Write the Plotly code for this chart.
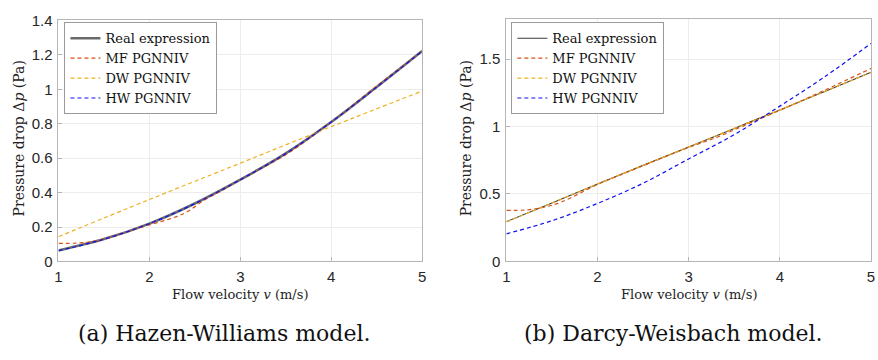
import plotly.graph_objects as go

# ---------------- data ----------------
v = [1.0, 1.5, 2.0, 2.5, 3.0, 3.5, 4.0, 4.5, 5.0]

# (a) Hazen-Williams model
hw_real = [0.064, 0.130, 0.220, 0.337, 0.475, 0.628, 0.810, 1.013, 1.222]
hw_hw = [0.063, 0.129, 0.220, 0.336, 0.475, 0.627, 0.810, 1.013, 1.222]
v_mf_a = [1.0, 1.2, 1.4, 1.6, 1.8, 2.0, 2.2, 2.4, 2.6, 2.8, 3.0, 3.5, 4.0, 4.5, 5.0]
hw_mf = [0.105, 0.107, 0.118, 0.145, 0.180, 0.213, 0.243, 0.284, 0.355, 0.413, 0.475, 0.620, 0.810, 1.020, 1.222]
v_dw_a = [1.0, 2.0, 3.0, 4.0, 5.0]
hw_dw = [0.144, 0.360, 0.571, 0.783, 0.990]

# (b) Darcy-Weisbach model
dw_real = [0.295, 0.434, 0.574, 0.712, 0.849, 0.986, 1.123, 1.262, 1.402]
dw_dw = [0.293, 0.433, 0.574, 0.712, 0.849, 0.986, 1.123, 1.262, 1.400]
v_mf_b = [1.0, 1.2, 1.4, 1.6, 2.0, 2.5, 3.0, 3.3, 3.6, 4.0, 4.5, 5.0]
dw_mf = [0.379, 0.381, 0.400, 0.440, 0.570, 0.710, 0.845, 0.918, 1.005, 1.120, 1.272, 1.430]
dw_hw = [0.205, 0.302, 0.430, 0.580, 0.760, 0.940, 1.151, 1.372, 1.616]

names = ["Real expression", "MF PGNNIV", "DW PGNNIV", "HW PGNNIV"]
y_ticks_a = [0, 0.2, 0.4, 0.6, 0.8, 1.0, 1.2, 1.4]
y_labels_a = ["0", "0.2", "0.4", "0.6", "0.8", "1", "1.2", "1.4"]
y_ticks_b = [0, 0.5, 1.0, 1.5]
y_labels_b = ["0", "0.5", "1", "1.5"]
x_ticks = [1, 2, 3, 4, 5]

# ---------------- style ----------------
C_REAL_A = "#6b6b6b"
C_REAL_B = "#3a3a3a"
C_MF = "#D95319"
C_DW = "#EDB120"
C_HW = "#1010F0"
DASH = "4px,3px"
SERIF = "DejaVu Serif, Liberation Serif, serif"
SANS = "Liberation Sans, Arial, sans-serif"

fig = go.Figure()

# panel (a)
fig.add_trace(go.Scatter(x=v, y=hw_real, name=names[0], mode="lines",
                         line=dict(color=C_REAL_A, width=2.6, shape="spline"),
                         xaxis="x", yaxis="y", legend="legend"))
fig.add_trace(go.Scatter(x=v_mf_a, y=hw_mf, name=names[1], mode="lines",
                         line=dict(color=C_MF, width=1.2, dash=DASH, shape="spline"),
                         xaxis="x", yaxis="y", legend="legend"))
fig.add_trace(go.Scatter(x=v_dw_a, y=hw_dw, name=names[2], mode="lines",
                         line=dict(color=C_DW, width=1.2, dash=DASH, shape="spline"),
                         xaxis="x", yaxis="y", legend="legend"))
fig.add_trace(go.Scatter(x=v, y=hw_hw, name=names[3], mode="lines",
                         line=dict(color=C_HW, width=1.2, dash=DASH, shape="spline"),
                         xaxis="x", yaxis="y", legend="legend"))

# panel (b)
fig.add_trace(go.Scatter(x=v, y=dw_real, name=names[0], mode="lines",
                         line=dict(color=C_REAL_B, width=1.1, shape="spline"),
                         xaxis="x2", yaxis="y2", legend="legend2"))
fig.add_trace(go.Scatter(x=v_mf_b, y=dw_mf, name=names[1], mode="lines",
                         line=dict(color=C_MF, width=1.2, dash=DASH, shape="spline"),
                         xaxis="x2", yaxis="y2", legend="legend2"))
fig.add_trace(go.Scatter(x=v, y=dw_dw, name=names[2], mode="lines",
                         line=dict(color=C_DW, width=1.2, dash=DASH, shape="spline"),
                         xaxis="x2", yaxis="y2", legend="legend2"))
fig.add_trace(go.Scatter(x=v, y=dw_hw, name=names[3], mode="lines",
                         line=dict(color=C_HW, width=1.2, dash=DASH, shape="spline"),
                         xaxis="x2", yaxis="y2", legend="legend2"))

W, H = 878, 360
axis_common = dict(showline=True, linecolor="#b5b5b5", linewidth=1, mirror=True,
                   showgrid=True, gridcolor="#ececec", gridwidth=1,
                   ticks="inside", ticklen=4, tickcolor="#b5b5b5",
                   zeroline=False, tickfont=dict(family=SANS, size=15, color="#262626"))

legend_common = dict(font=dict(family=SERIF, size=13, color="#111111"),
                     bgcolor="white", bordercolor="#9a9a9a", borderwidth=1,
                     xanchor="left", yanchor="top", itemwidth=30,
                     tracegroupgap=0)

fig.update_layout(
    width=W, height=H,
    margin=dict(l=0, r=0, t=0, b=0),
    paper_bgcolor="white", plot_bgcolor="white",
    xaxis=dict(domain=[55 / W, 422 / W], range=[1, 5], tickvals=x_ticks,
               anchor="y", ticklabelstandoff=2, **axis_common),
    yaxis=dict(domain=[1 - 265 / H, 1 - 12 / H], range=[0, 1.4], tickvals=y_ticks_a,
               ticktext=y_labels_a, anchor="x", ticklabelstandoff=2, **axis_common),
    xaxis2=dict(domain=[507 / W, 875 / W], range=[1, 5], tickvals=x_ticks,
                anchor="y2", ticklabelstandoff=2, **axis_common),
    yaxis2=dict(domain=[1 - 265 / H, 1 - 10 / H], range=[0, 1.8], tickvals=y_ticks_b,
                ticktext=y_labels_b, anchor="x2", ticklabelstandoff=2, **axis_common),
    legend=dict(x=61 / W, y=1 - 14 / H, **legend_common),
    legend2=dict(x=512 / W, y=1 - 14 / H, **legend_common),
    showlegend=True,
)

YTITLE_FONT = dict(family=SERIF, size=14, color="#222222")
XTITLE_FONT = dict(family=SERIF, size=13, color="#222222")
CAP_FONT = dict(family=SERIF, size=22, color="#111111")


def note(text, x, y, font, angle=0):
    return dict(text=text, x=x / W, y=1 - y / H, xref="paper", yref="paper",
                xanchor="center", yanchor="middle", showarrow=False,
                textangle=angle, font=font)


ann = [
    note("Pressure drop Δ<i>p</i> (Pa)", 15, 136, YTITLE_FONT, -90),
    note("Pressure drop Δ<i>p</i> (Pa)", 466, 136, YTITLE_FONT, -90),
    note("Flow velocity <i>v</i> (m/s)", 238, 300, XTITLE_FONT),
    note("Flow velocity <i>v</i> (m/s)", 691, 300, XTITLE_FONT),
    note("(a) Hazen-Williams model.", 222, 341, CAP_FONT),
    note("(b) Darcy-Weisbach model.", 676, 341, CAP_FONT),
]
fig.update_layout(annotations=ann)

fig.write_html("out.html")
